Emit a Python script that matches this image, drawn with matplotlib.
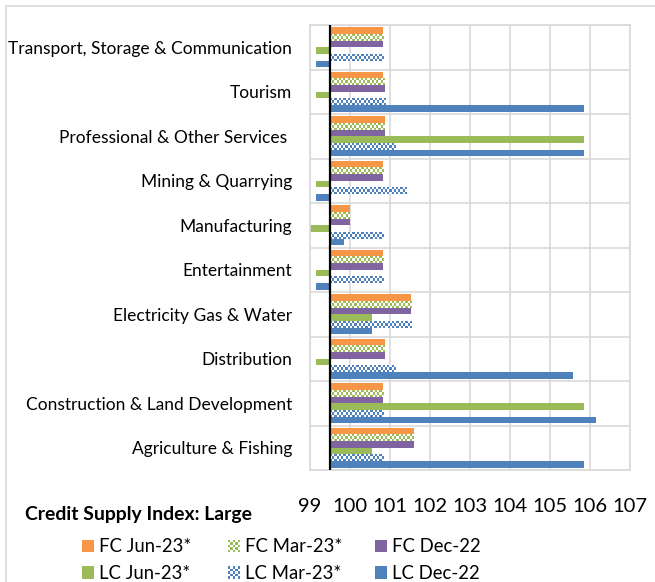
import numpy as np
import matplotlib
matplotlib.use("Agg")
import matplotlib.pyplot as plt
from matplotlib.patches import Rectangle, Patch
from matplotlib.legend_handler import HandlerBase
from matplotlib.colors import to_rgb

# ---------------- data ----------------
categories = ["Transport, Storage & Communication", "Tourism",
              "Professional & Other Services ", "Mining & Quarrying",
              "Manufacturing", "Entertainment", "Electricity Gas & Water",
              "Distribution", "Construction & Land Development",
              "Agriculture & Fishing"]

series_names = ["FC Jun-23*", "FC Mar-23*", "FC Dec-22",
                "LC Jun-23*", "LC Mar-23*", "LC Dec-22"]

fc_jun = [100.83, 100.83, 100.875, 100.83, 100.0, 100.83, 101.53, 100.875, 100.83, 101.6]
fc_mar = [100.83, 100.875, 100.875, 100.83, 100.0, 100.83, 101.53, 100.875, 100.83, 101.6]
fc_dec = [100.83, 100.875, 100.875, 100.83, 100.0, 100.83, 101.53, 100.875, 100.83, 101.6]
lc_jun = [99.15, 99.15, 105.86, 99.15, 99.0, 99.15, 100.54, 99.15, 105.86, 100.54]
lc_mar = [100.83, 100.9, 101.13, 101.42, 100.83, 100.83, 101.54, 101.13, 100.83, 100.83]
lc_dec = [99.15, 105.86, 105.86, 99.15, 99.85, 99.15, 100.54, 105.57, 106.14, 105.86]

x_ticks = [99, 100, 101, 102, 103, 104, 105, 106, 107]
baseline = 99.5
title = "Credit Supply Index: Large"

# ---------------- styling ----------------
colors = ["#F79646", "#9BBB59", "#8064A2", "#9BBB59", "#4F81BD", "#4F81BD"]
checker = [False, True, False, False, True, False]
FONT = "Lato"
GRID = "#D9D9D9"
W, H = 655, 582

fig = plt.figure(figsize=(W / 100, H / 100), dpi=100)
renderer = fig.canvas.get_renderer()


def fit(text, target_px, weight="normal", base=12.0):
    t = fig.text(0, 0, text, fontsize=base, family=FONT, fontweight=weight)
    w = t.get_window_extent(renderer).width
    t.remove()
    return base * target_px / w


fs_cat = fit("Transport, Storage & Communication", 282)
fs_tick = fit("100", 35)
fs_title = fit(title, 227, weight="bold")
fs_leg = fit("FC Jun-23*", 92)

ax = fig.add_axes([310 / W, 1 - 470 / H, 320 / W, 445 / H])

all_series = [fc_jun, fc_mar, fc_dec, lc_jun, lc_mar, lc_dec]
n = len(categories)
y = np.arange(n)
bh = 0.15
offsets = (np.arange(6) - 2.5) * bh

ax.set_xlim(x_ticks[0], x_ticks[-1])
ax.set_ylim(n - 0.5, -0.5)

containers = []
for k, vals in enumerate(all_series):
    v = np.array(vals)
    c = ax.barh(y + offsets[k], v - baseline, left=baseline, height=bh,
                color="white" if checker[k] else colors[k], linewidth=0, zorder=2)
    containers.append(c)

# checker texture for the hatched series
for k, c in enumerate(containers):
    if not checker[k]:
        continue
    rgb = np.array(to_rgb(colors[k]))
    for p in c.patches:
        x0, y0, w, h = p.get_x(), p.get_y(), p.get_width(), p.get_height()
        bb = p.get_window_extent(renderer)
        ncol = max(2, int(round(bb.width / 2.2)))
        nrow = max(2, int(round(bb.height / 2.2)))
        ii, jj = np.meshgrid(np.arange(ncol), np.arange(nrow))
        arr = np.ones((nrow, ncol, 3))
        arr[(ii + jj) % 2 == 0] = rgb
        ax.imshow(arr, extent=(min(x0, x0 + w), max(x0, x0 + w), y0 + h, y0),
                  aspect="auto", interpolation="nearest", zorder=2.5)

ax.set_xlim(x_ticks[0], x_ticks[-1])
ax.set_ylim(n - 0.5, -0.5)

ax.axvline(baseline, color="black", lw=1.6, zorder=4)

ax.set_xticks(x_ticks)
ax.set_xticklabels([str(t) for t in x_ticks], fontsize=fs_tick, family=FONT)
ax.set_yticks(y)
ax.set_yticklabels(categories, fontsize=fs_cat, family=FONT)
ax.set_yticks(np.arange(n + 1) - 0.5, minor=True)
ax.tick_params(axis="y", which="both", length=0, pad=13)
ax.tick_params(axis="x", length=0, pad=20.5)
ax.grid(axis="x", which="major", color=GRID, lw=1.2)
ax.grid(axis="y", which="minor", color=GRID, lw=1.2)
ax.set_axisbelow(True)
for s in ax.spines.values():
    s.set_color(GRID)
    s.set_linewidth(1.2)

fig.text(25 / W, 1 - 520 / H, title, fontsize=fs_title, family=FONT,
         fontweight="bold", va="baseline", ha="left")


class CheckerHandler(HandlerBase):
    def __init__(self, color, cells=5):
        super().__init__()
        self.color = color
        self.cells = cells

    def create_artists(self, legend, orig_handle, xdescent, ydescent,
                       width, height, fontsize, trans):
        arts = [Rectangle((-xdescent, -ydescent), width, height,
                          facecolor="white", edgecolor="none", transform=trans)]
        cw, ch = width / self.cells, height / self.cells
        for i in range(self.cells):
            for j in range(self.cells):
                if (i + j) % 2 == 0:
                    arts.append(Rectangle((-xdescent + i * cw, -ydescent + j * ch), cw, ch,
                                          facecolor=self.color, edgecolor="none",
                                          transform=trans))
        return arts


handles = []
hmap = {}
for k in range(6):
    h = Patch(facecolor=colors[k], edgecolor="none", label=series_names[k])
    handles.append(h)
    if checker[k]:
        hmap[h] = CheckerHandler(colors[k])

fs_leg_px = fs_leg * 100 / 72
sq = 12 / fs_leg_px
col_x = [82, 228, 375]
for col in range(3):
    idx = [col, col + 3]
    leg = fig.legend([handles[i] for i in idx], [series_names[i] for i in idx],
                     handler_map=hmap, ncol=1, frameon=False,
                     loc="upper left", bbox_to_anchor=(col_x[col] / W, 1 - 538.5 / H),
                     borderpad=0, borderaxespad=0, prop={"family": FONT, "size": fs_leg},
                     handlelength=sq, handleheight=sq, handletextpad=0.25,
                     labelspacing=0.52)

fig.add_artist(Rectangle((6 / W, -1), 2, 2 - 6 / H, transform=fig.transFigure,
                         fill=False, edgecolor=GRID, lw=1.2))

fig.savefig("out.png", dpi=100, facecolor="white")
